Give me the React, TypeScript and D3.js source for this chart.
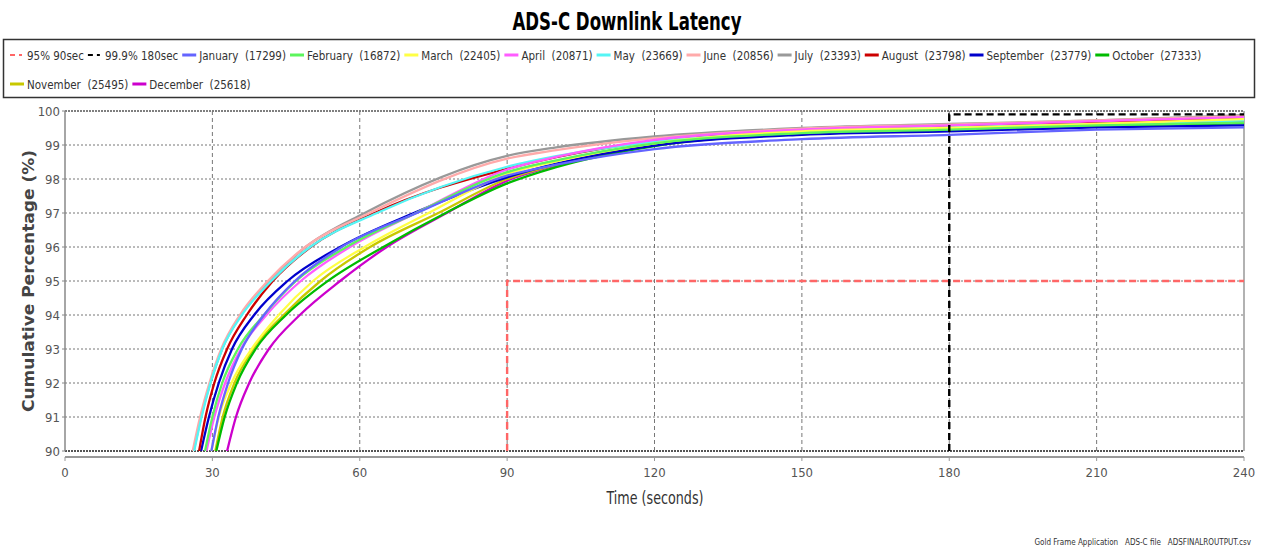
import React from "react";
import * as d3 from "d3";

type Pt = [number, number];

const TITLE = "ADS-C Downlink Latency";
const X_LABEL = "Time (seconds)";
const Y_LABEL = "Cumulative Percentage (%)";
const FOOTER = "Gold Frame Application   ADS-C file   ADSFINALROUTPUT.csv";

const xTicks = [0, 30, 60, 90, 120, 150, 180, 210, 240];
const yTicks = [90, 91, 92, 93, 94, 95, 96, 97, 98, 99, 100];

const months = ["January", "February", "March", "April", "May", "June", "July", "August", "September", "October", "November", "December"];
const counts = [17299, 16872, 22405, 20871, 23669, 20856, 23393, 23798, 23779, 27333, 25495, 25618];
const colors = ["#6464ff", "#5cf55c", "#ffff44", "#ff5cff", "#55f5f5", "#ffaaaa", "#999999", "#cc0000", "#0000cc", "#00bb00", "#c8c800", "#cc00cc"];

// [seconds, cumulative %]
const jan: Pt[] = [[29.8, 90], [31.2, 91], [33.2, 92], [36.0, 93], [40.5, 94], [46.8, 95], [56.3, 96], [71.6, 97], [90, 98.1], [100, 98.42], [120, 98.88], [150, 99.17], [180, 99.3], [210, 99.45], [240, 99.52]];
const feb: Pt[] = [[28.5, 90], [30.0, 91], [32.0, 92], [35.2, 93], [40.5, 94], [47.0, 95], [57.3, 96], [71.5, 97], [90, 98.2], [100, 98.55], [120, 99.05], [150, 99.35], [180, 99.45], [210, 99.58], [240, 99.66]];
const mar: Pt[] = [[29.8, 90], [31.3, 91], [33.9, 92], [38.0, 93], [43.5, 94], [50.5, 95], [61.0, 96], [74.0, 97], [90, 98.15], [100, 98.52], [120, 99.05], [150, 99.4], [180, 99.5], [210, 99.62], [240, 99.76]];
const apr: Pt[] = [[28.8, 90], [30.4, 91], [32.6, 92], [35.8, 93], [41.0, 94], [48.0, 95], [58.0, 96], [71.5, 97], [90, 98.28], [100, 98.65], [120, 99.15], [150, 99.45], [180, 99.58], [210, 99.7], [240, 99.82]];
const may: Pt[] = [[26.3, 90], [27.8, 91], [29.6, 92], [32.0, 93], [36.0, 94], [42.0, 95], [49.9, 96], [63.5, 97], [90, 98.36], [100, 98.67], [120, 99.1], [150, 99.4], [180, 99.52], [210, 99.62], [240, 99.72]];
const jun: Pt[] = [[26.0, 90], [27.5, 91], [29.4, 92], [31.8, 93], [35.6, 94], [41.3, 95], [48.9, 96], [62.0, 97], [90, 98.6], [100, 98.85], [120, 99.2], [150, 99.48], [180, 99.6], [210, 99.72], [240, 99.85]];
const jul: Pt[] = [[26.2, 90], [27.7, 91], [29.6, 92], [32.0, 93], [35.8, 94], [41.5, 95], [49.0, 96], [61.0, 97], [90, 98.68], [100, 98.93], [120, 99.25], [150, 99.5], [180, 99.62], [210, 99.72], [240, 99.88]];
const aug: Pt[] = [[27.3, 90], [28.6, 91], [30.4, 92], [33.0, 93], [37.0, 94], [42.3, 95], [50.0, 96], [63.0, 97], [90, 98.3], [100, 98.64], [120, 99.12], [150, 99.42], [180, 99.55], [210, 99.65], [240, 99.78]];
const sep: Pt[] = [[27.7, 90], [29.3, 91], [31.3, 92], [34.0, 93], [38.5, 94], [45.3, 95], [56.0, 96], [71.0, 97], [90, 98.05], [100, 98.45], [120, 98.98], [150, 99.3], [180, 99.4], [210, 99.52], [240, 99.58]];
const oct: Pt[] = [[30.8, 90], [32.5, 91], [35.0, 92], [38.8, 93], [45.0, 94], [53.5, 95], [64.8, 96], [77.5, 97], [90, 97.87], [100, 98.35], [120, 98.97], [150, 99.32], [180, 99.42], [210, 99.56], [240, 99.64]];
const nov: Pt[] = [[30.6, 90], [32.1, 91], [34.5, 92], [38.3, 93], [44.5, 94], [52.0, 95], [62.1, 96], [76.0, 97], [90, 98.0], [100, 98.42], [120, 99.0], [150, 99.38], [180, 99.5], [210, 99.6], [240, 99.74]];
const dec: Pt[] = [[33.0, 90], [34.8, 91], [37.5, 92], [41.5, 93], [47.8, 94], [56.0, 95], [65.5, 96], [77.7, 97], [90, 97.95], [100, 98.4], [120, 99.02], [150, 99.35], [180, 99.45], [210, 99.58], [240, 99.68]];

const monthData: Pt[][] = [jan, feb, mar, apr, may, jun, jul, aug, sep, oct, nov, dec];

// reference targets
const target95: Pt[] = [[90, 90], [90, 95], [240, 95]];
const target999: Pt[] = [[180, 90], [180, 99.9], [240, 99.9]];

const W = 1264;
const H = 549;
const PL = 65, PR = 1244, PT = 111, PB = 451;
const COND = "'DejaVu Sans Condensed', 'Liberation Sans Narrow', 'DejaVu Sans', sans-serif";

let _ctx: CanvasRenderingContext2D | null = null;
function measure(text: string, font: string): number {
  if (!_ctx) _ctx = document.createElement("canvas").getContext("2d");
  if (!_ctx) return text.length * 6;
  _ctx.font = font;
  return _ctx.measureText(text).width;
}

export default function App() {
  const x = d3.scaleLinear().domain([0, 240]).range([PL, PR]);
  const y = d3.scaleLinear().domain([90, 100]).range([PB, PT]);
  const line = d3.line<Pt>().x(d => x(d[0])).y(d => y(d[1])).curve(d3.curveMonotoneX);
  const stepLine = d3.line<Pt>().x(d => x(d[0])).y(d => y(d[1]));

  // legend items
  const legendFontPx = 11.5;
  const legendFont = `${legendFontPx}px ${COND}`;
  type Item = { label: string; color: string; dashed: boolean };
  const items: Item[] = [
    { label: "95% 90sec", color: "#ff6666", dashed: true },
    { label: "99.9% 180sec", color: "#000000", dashed: true },
    ...months.map((m, i) => ({ label: `${m}\u00a0\u00a0(${counts[i]})`, color: colors[i], dashed: false })),
  ];
  const symW = 17;
  const legendLeft = 10;
  const legendRight = 1250;
  const breakAfter = 11; // October ends the first row
  let cx = legendLeft;
  let row = 0;
  const placed = items.map((it, i) => {
    const tw = measure(it.label, legendFont);
    const w = symW + tw + 4;
    if (cx + w > legendRight || i === breakAfter + 1) {
      row += 1;
      cx = legendLeft;
    }
    const p = { ...it, x: cx, row, tw };
    cx += w;
    return p;
  });

  // draw later series first so earlier months sit on top
  const drawOrder = monthData.map((_, i) => i).reverse();

  return (
    <svg width={W} height={H} style={{ position: "absolute", left: 0, top: 0, background: "#fff" }}>
      <rect x={0} y={0} width={W} height={H} fill="#fff" />
      <defs>
        <clipPath id="plotClip">
          <rect x={PL} y={PT - 2} width={PR - PL} height={PB - PT + 2} />
        </clipPath>
      </defs>

      {/* title */}
      <text x={627} y={30} textAnchor="middle" fontFamily={COND} fontWeight="bold" fontSize={24} fill="#000" textLength={229} lengthAdjust="spacingAndGlyphs">{TITLE}</text>

      {/* legend box */}
      <rect x={3.5} y={39.5} width={1251} height={58} fill="#fff" stroke="#333" strokeWidth={1.5} />
      {placed.map((p, i) => {
        const cy = 55 + p.row * 29;
        return (
          <g key={i}>
            {p.dashed ? (
              <g>
                <line x1={p.x} x2={p.x + 5} y1={cy} y2={cy} stroke={p.color} strokeWidth={2} />
                <line x1={p.x + 9} x2={p.x + 12} y1={cy} y2={cy} stroke={p.color} strokeWidth={2} />
              </g>
            ) : (
              <line x1={p.x} x2={p.x + 14} y1={cy} y2={cy} stroke={p.color} strokeWidth={3} />
            )}
            <text x={p.x + symW} y={cy + 4.5} fontFamily={COND} fontSize={legendFontPx} fill="#333" style={{ whiteSpace: "pre" }}>{p.label}</text>
          </g>
        );
      })}

      {/* grid */}
      {yTicks.filter(t => t > 90 && t < 100).map(t => (
        <line key={"gy" + t} x1={PL} x2={PR} y1={y(t)} y2={y(t)} stroke="#777" strokeWidth={1} strokeDasharray="2,2" />
      ))}
      <line x1={PL} x2={PR} y1={y(100)} y2={y(100)} stroke="#555" strokeWidth={1.5} strokeDasharray="2,1" />
      <line x1={PL} x2={PR} y1={y(90)} y2={y(90)} stroke="#555" strokeWidth={2} strokeDasharray="2,1" />
      {xTicks.filter(t => t > 0 && t < 240).map(t => (
        <line key={"gx" + t} x1={x(t)} x2={x(t)} y1={PT} y2={PB} stroke="#777" strokeWidth={1} strokeDasharray="4,3" />
      ))}
      <line x1={PR} x2={PR} y1={PT} y2={PB} stroke="#999" strokeWidth={1.5} />

      {/* series */}
      <g clipPath="url(#plotClip)">
        {drawOrder.map(i => (
          <path key={months[i]} d={line(monthData[i]) || ""} fill="none" stroke={colors[i]} strokeWidth={2.3} strokeLinejoin="round" />
        ))}
        <path d={stepLine(target95) || ""} fill="none" stroke="#ff6666" strokeWidth={2.4} strokeDasharray="7,4" />
        <path d={stepLine(target999) || ""} fill="none" stroke="#000" strokeWidth={2.4} strokeDasharray="7,4" />
      </g>

      {/* y axis */}
      <line x1={PL} x2={PL} y1={PT} y2={PB} stroke="#888" strokeWidth={1.5} />
      {yTicks.map(t => (
        <g key={"yt" + t}>
          <line x1={PL - 3} x2={PL} y1={y(t)} y2={y(t)} stroke="#888" />
          <text x={PL - 5} y={y(t) + 4.5} textAnchor="end" fontFamily={COND} fontSize={13} fill="#555">{t}</text>
        </g>
      ))}

      {/* x axis */}
      <line x1={PL} x2={PR} y1={457} y2={457} stroke="#999" strokeWidth={2} />
      {xTicks.map(t => (
        <g key={"xt" + t}>
          <line x1={x(t)} x2={x(t)} y1={457} y2={461} stroke="#999" />
          <text x={x(t)} y={477} textAnchor="middle" fontFamily={COND} fontSize={13} fill="#555">{t}</text>
        </g>
      ))}

      {/* axis titles */}
      <text x={655} y={504} textAnchor="middle" fontFamily={COND} fontSize={17} fill="#333" textLength={97} lengthAdjust="spacingAndGlyphs">{X_LABEL}</text>
      <text transform={`translate(34,${(PT + PB) / 2}) rotate(-90)`} textAnchor="middle" fontFamily="'DejaVu Sans', sans-serif" fontWeight="bold" fontSize={16} fill="#444" textLength={262} lengthAdjust="spacingAndGlyphs">{Y_LABEL}</text>

      {/* footer */}
      <text x={1251} y={545} textAnchor="end" fontFamily={COND} fontSize={8} fill="#333" style={{ whiteSpace: "pre" }}>{FOOTER}</text>
    </svg>
  );
}
